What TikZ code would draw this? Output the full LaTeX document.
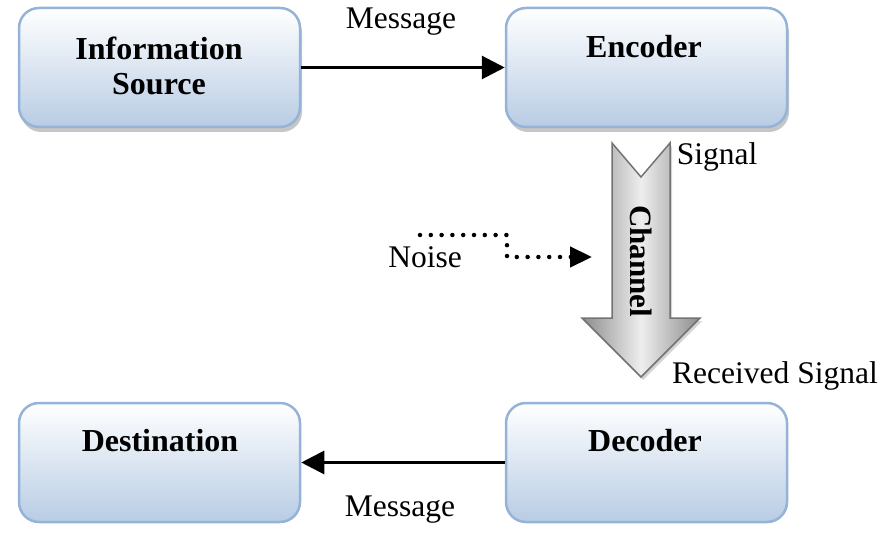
\documentclass[tikz,border=0pt]{standalone}
\usepackage{fontspec}
\setmainfont{Liberation Serif}
\usetikzlibrary{arrows.meta,shadows,calc}
\definecolor{boxline}{RGB}{149,179,215}
\definecolor{boxbot}{RGB}{184,204,228}
\definecolor{chdark}{RGB}{140,140,140}
\definecolor{chlight}{RGB}{238,238,238}
\definecolor{chline}{RGB}{115,115,115}
\begin{document}
\begin{tikzpicture}[x=1pt,y=1pt,
 box/.style={draw=boxline, line width=2.5pt, rounded corners=20pt, top color=white, bottom color=boxbot, minimum width=281pt, minimum height=119pt, inner sep=0pt},
 shadowed/.style={drop shadow={shadow xshift=2pt, shadow yshift=-5pt, fill=gray, opacity=0.45}},
 title/.style={font=\fontsize{32}{35}\selectfont\bfseries, align=center, inner sep=0pt},
 lbl/.style={font=\fontsize{31.5}{35}\selectfont, inner sep=0pt},
 conn/.style={line width=3pt, -{Triangle[length=23pt,width=23pt]}},
 noisy/.style={line width=4.5pt, line cap=round, dash pattern=on 0pt off 10.8pt, -{Triangle[length=22pt,width=20pt]}}
]
\useasboundingbox (0,0) rectangle (890,-553);

% boxes
\node[box, shadowed] (src) at (159.5,-67.5) {};
\node[box, shadowed] (enc) at (646.5,-67.5) {};
\node[box] (dst) at (159.5,-462.5) {};
\node[box] (dec) at (646.5,-462.5) {};

% box titles
\node[title] (srct) at (159,-66) {Information\\Source};
\node[title, anchor=base] (enct) at (644,-58) {Encoder};
\node[title, anchor=base] (dstt) at (160,-451) {Destination};
\node[title, anchor=base] (dect) at (645,-451) {Decoder};

% connectors
\draw[conn] (src.east) -- (enc.west);
\draw[conn] (dec.west) -- (dst.east);

% channel arrow
\path[draw=chline, line width=1.5pt, left color=chdark, right color=chdark, middle color=chlight,
      drop shadow={shadow xshift=2pt, shadow yshift=-3pt, fill=gray, opacity=0.35}]
  (612,-143) -- (641,-177) -- (670,-143) -- (670,-318) -- (700,-318) -- (641,-377)
  -- (582,-318) -- (612,-318) -- cycle;
\node[title, font=\fontsize{31}{35}\selectfont\bfseries, rotate=-90] (cht) at (641,-261) {Channel};

% noise
\coordinate (nstart) at (420,-235);
\coordinate (nend) at (592,-257);
\draw[noisy] (nstart) -- ++(87,0) |- (nend);

% labels
\node[lbl, anchor=base] (msg1) at (401,-29) {Message};
\node[lbl, anchor=base] (msg2) at (400,-516) {Message};
\node[lbl, anchor=base] (noise) at (425,-267) {Noise};
\node[lbl, anchor=base] (sig) at (717,-165) {Signal};
\node[lbl, anchor=base] (rsig) at (775,-383) {Received Signal};
\end{tikzpicture}
\end{document}
